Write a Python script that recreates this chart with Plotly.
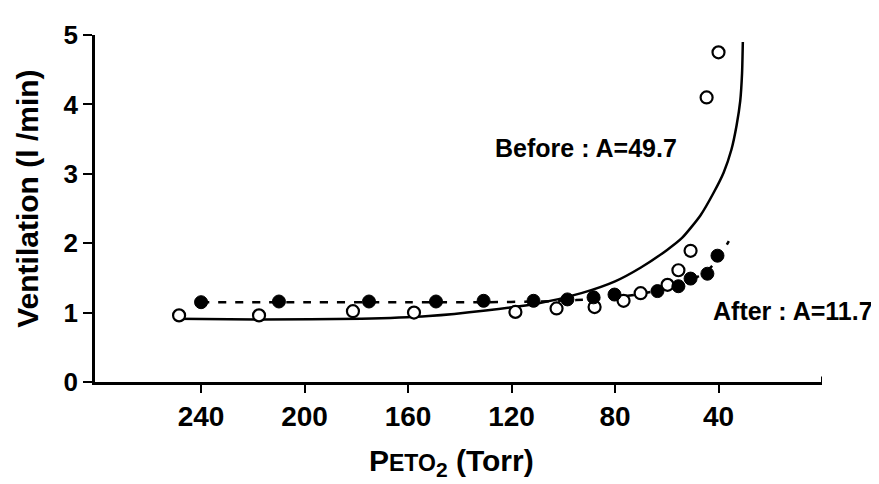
import plotly.graph_objects as go

# Before (open circles)
before_x = [248.5, 217.6, 181.3, 157.7, 118.5, 102.6, 87.9, 76.7, 70.1, 59.7, 55.5, 50.8, 44.6, 40.0]
before_y = [0.96, 0.96, 1.02, 1.00, 1.01, 1.06, 1.08, 1.17, 1.28, 1.40, 1.61, 1.89, 4.10, 4.75]

# After (filled circles)
after_x = [240.0, 209.9, 175.1, 149.2, 130.8, 111.5, 98.4, 88.3, 80.2, 63.6, 55.5, 50.8, 44.3, 40.4]
after_y = [1.15, 1.16, 1.16, 1.16, 1.17, 1.17, 1.19, 1.22, 1.26, 1.31, 1.38, 1.49, 1.56, 1.82]

# Fitted curves
fit_before_x = [250, 217, 178, 152, 130, 110, 93, 80, 70, 60, 54, 47, 42, 38, 35, 33, 31.6, 30.9, 30.6]
fit_before_y = [0.91, 0.90, 0.91, 0.95, 1.03, 1.13, 1.28, 1.45, 1.65, 1.90, 2.08, 2.40, 2.72, 3.02, 3.35, 3.70, 4.05, 4.45, 4.90]

fit_after_x = [240, 200, 160, 130, 110, 95, 80, 70, 60, 52, 45, 40, 36]
fit_after_y = [1.15, 1.15, 1.15, 1.15, 1.16, 1.18, 1.22, 1.27, 1.35, 1.45, 1.58, 1.78, 2.03]

x_ticks = [240, 200, 160, 120, 80, 40]
y_ticks = [0, 1, 2, 3, 4, 5]

FONT = "Liberation Sans, Arial, sans-serif"

fig = go.Figure()
fig.add_trace(go.Scatter(x=fit_before_x, y=fit_before_y, mode="lines",
                         line=dict(color="black", width=2.5, shape="spline", smoothing=0.6),
                         showlegend=False, hoverinfo="skip"))
fig.add_trace(go.Scatter(x=fit_after_x, y=fit_after_y, mode="lines",
                         line=dict(color="black", width=2.5, dash="8px,9px", shape="spline", smoothing=0.6),
                         showlegend=False, hoverinfo="skip"))
fig.add_trace(go.Scatter(x=before_x, y=before_y, mode="markers",
                         marker=dict(symbol="circle", size=12, color="white",
                                     line=dict(color="black", width=2.2)),
                         name="Before", showlegend=False))
fig.add_trace(go.Scatter(x=after_x, y=after_y, mode="markers",
                         marker=dict(symbol="circle", size=13, color="black",
                                     line=dict(color="black", width=1)),
                         name="After", showlegend=False))

fig.add_annotation(x=91.4, y=3.37, text="Before : A=49.7", showarrow=False,
                   font=dict(family=FONT, size=25, color="black", weight="bold"))
fig.add_annotation(x=11.4, y=1.03, text="After : A=11.7", showarrow=False,
                   font=dict(family=FONT, size=25, color="black", weight="bold"))

# axis titles
fig.add_annotation(xref="paper", yref="paper", x=0, y=0.528, xanchor="center", yanchor="middle",
                   xshift=-67, textangle=-90, showarrow=False,
                   text="Ventilation (l /min)",
                   font=dict(family=FONT, size=30, color="black", weight="bold"))
fig.add_annotation(xref="paper", yref="paper", x=0.491, y=0, xanchor="center", yanchor="middle",
                   yshift=-80, showarrow=False,
                   text="P<span style='font-size:23px'>ETO</span><sub>2</sub> (Torr)",
                   font=dict(family=FONT, size=30, color="black", weight="bold"))

# small upward tick at right end of the x axis
fig.add_shape(type="line", xref="x", yref="y", x0=0, x1=0, y0=0, y1=0.08,
              line=dict(color="black", width=2))

fig.update_layout(
    width=871, height=476,
    margin=dict(l=87, r=57, t=16, b=102),
    plot_bgcolor="white", paper_bgcolor="white",
    font=dict(family=FONT, color="black", weight="bold"),
    xaxis=dict(range=[281, 0], tickmode="array", tickvals=x_ticks,
               ticktext=[str(v) for v in x_ticks],
               ticks="outside", ticklen=8, tickwidth=2, tickcolor="black",
               showline=True, linecolor="black", linewidth=2.5,
               showgrid=False, zeroline=False,
               tickfont=dict(family=FONT, size=28, color="black", weight="bold")),
    yaxis=dict(range=[0, 5], tickmode="array", tickvals=y_ticks,
               ticks="outside", ticklen=9, tickwidth=2, tickcolor="black",
               showline=True, linecolor="black", linewidth=2.5,
               showgrid=False, zeroline=False,
               tickfont=dict(family=FONT, size=26, color="black", weight="bold")),
)

fig.write_html("out.html")
